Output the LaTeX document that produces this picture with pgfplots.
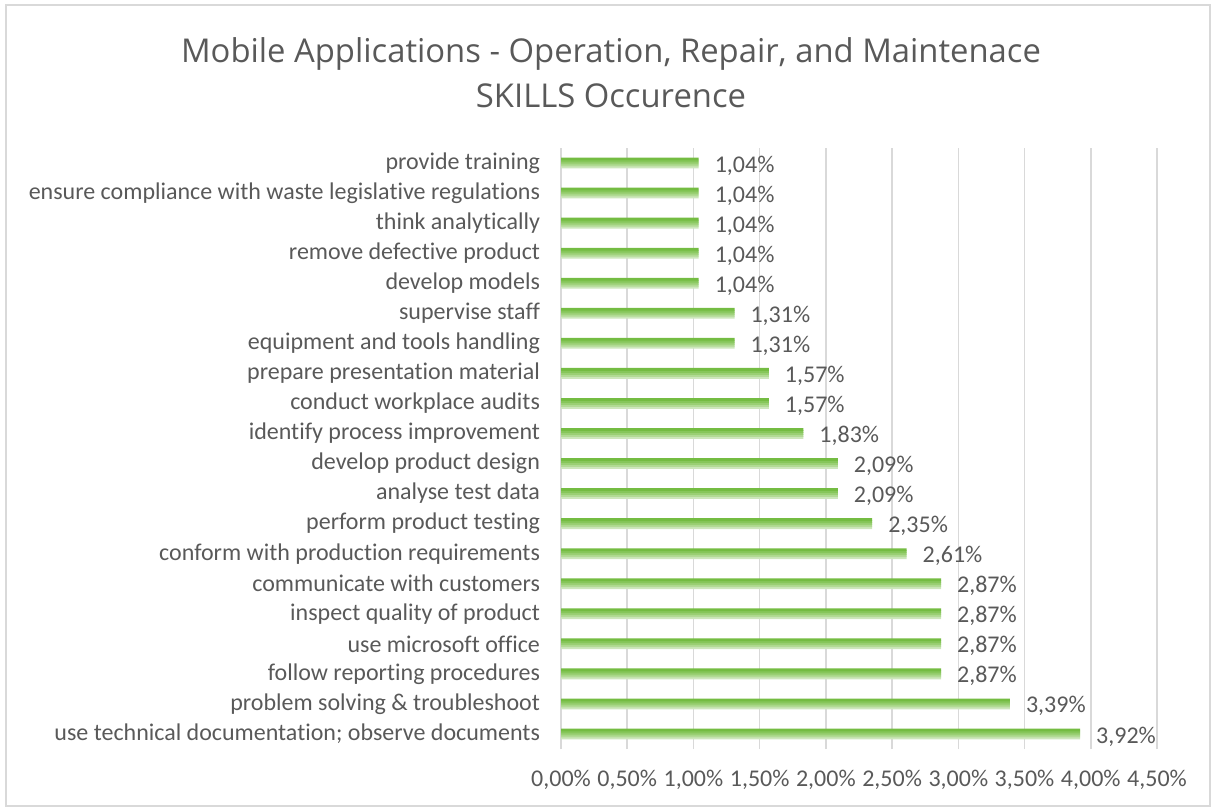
\documentclass[border=0pt]{standalone}
\usepackage{fontspec}
\setmainfont{Carlito}[Ligatures=CommonOff]
\newfontfamily\titlefont{Open Sans}
\usepackage{pgfplots}
\pgfplotsset{compat=1.18}
\definecolor{txt}{HTML}{595959}
\definecolor{gridc}{HTML}{D9D9D9}
\definecolor{barA}{HTML}{74BC42}
\definecolor{barB}{HTML}{86C65A}
\definecolor{barC}{HTML}{9ACF74}
\definecolor{barD}{HTML}{B1DA94}
\definecolor{barE}{HTML}{CDE6BC}
\pgfkeys{/pgf/number format/assume math mode=true}

\pgfplotstableread{
val idx
3.92 0
3.39 1
2.87 2
2.87 3
2.87 4
2.87 5
2.61 6
2.35 7
2.09 8
2.09 9
1.83 10
1.57 11
1.57 12
1.31 13
1.31 14
1.04 15
1.04 16
1.04 17
1.04 18
1.04 19
}\skills

\begin{document}
\begin{tikzpicture}
\useasboundingbox (0,0) rectangle (606bp,-404bp);
\draw[gridc, line width=0.8bp] (3bp,-2.5bp) rectangle (605bp,-403bp);
\node[txt, align=center, font=\titlefont\fontsize{16.4bp}{22.5bp}\selectfont]
  at (305.5bp,-36.5bp) {Mobile Applications - Operation, Repair, and Maintenace\\SKILLS Occurence};
\begin{axis}[
  at={(280.5bp,-374.5bp)}, anchor=south west,
  scale only axis, width=298bp, height=300.5bp,
  xbar, bar width=1.4bp,
  xmin=0, xmax=4.5, ymin=-0.5, ymax=19.5,
  xtick={0,0.5,...,4.5},
  ytick={0,...,19},
  yticklabels={{use technical documentation; observe documents},
    {problem solving \& troubleshoot},
    {follow reporting procedures},
    {use microsoft office},
    {inspect quality of product},
    {communicate with customers},
    {conform with production requirements},
    {perform product testing},
    {analyse test data},
    {develop product design},
    {identify process improvement},
    {conduct workplace audits},
    {prepare presentation material},
    {equipment and tools handling},
    {supervise staff},
    {develop models},
    {remove defective product},
    {think analytically},
    {ensure compliance with waste legislative regulations},
    {provide training}},
  xticklabel={\pgfmathprintnumber[fixed,fixed zerofill,precision=2,use comma]{\tick}\%},
  xmajorgrids, grid style={gridc, line width=0.8bp},
  axis line style={draw=none},
  major tick length=0pt,
  tick label style={txt, font=\fontsize{12bp}{14bp}\selectfont},
  yticklabel style={xshift=-7bp},
  xticklabel style={yshift=-7bp},
  clip=false,
]
\addplot[draw=none, fill=barE, bar shift=-2bp] table[x=val, y=idx] {\skills};
\addplot[draw=none, fill=barD, bar shift=-1bp] table[x=val, y=idx] {\skills};
\addplot[draw=none, fill=barC, bar shift=0bp] table[x=val, y=idx] {\skills};
\addplot[draw=none, fill=barB, bar shift=1bp] table[x=val, y=idx] {\skills};
\addplot[draw=none, fill=barA, bar shift=2bp,
  nodes near coords={\pgfmathprintnumber[fixed,fixed zerofill,precision=2,use comma]{\pgfplotspointmeta}\%},
  nodes near coords style={txt, font=\fontsize{12bp}{14bp}\selectfont, xshift=4.5bp, yshift=-3.2bp},
  ] table[x=val, y=idx] {\skills};
\end{axis}
\end{tikzpicture}
\end{document}
